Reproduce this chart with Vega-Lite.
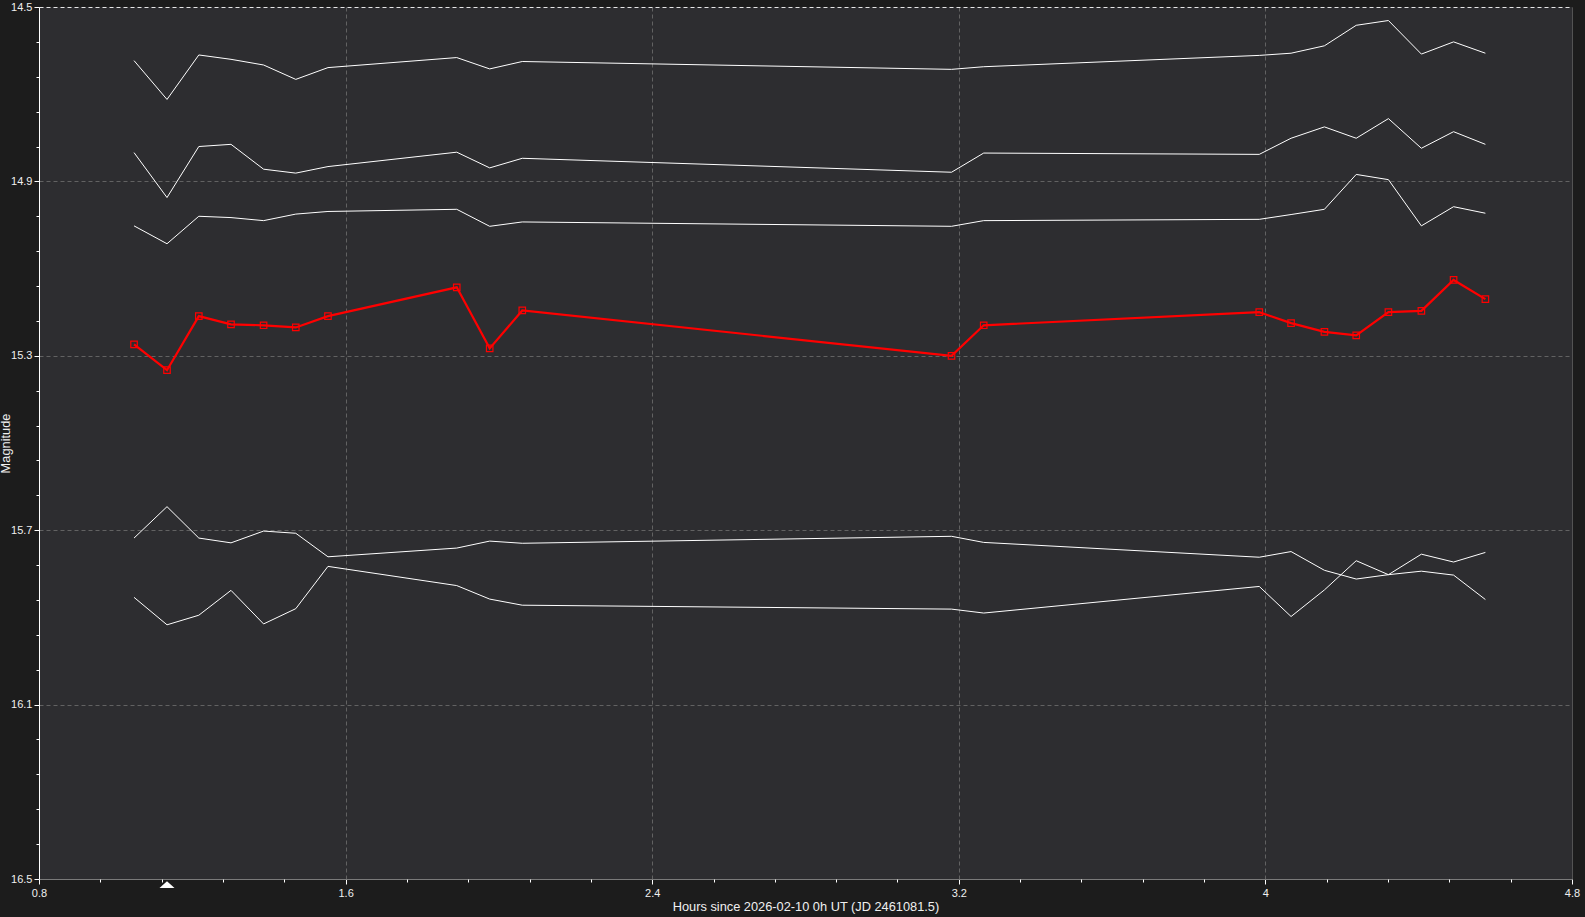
{
  "$schema": "https://vega.github.io/schema/vega-lite/v6.json",
  "width": 1533,
  "height": 872,
  "autosize": {"type": "none"},
  "padding": {"left": 39, "top": 7, "right": 13, "bottom": 38},
  "background": "#1c1c1c",
  "config": {
    "view": {"fill": "#2d2d30", "stroke": null},
    "font": "Liberation Sans",
    "axis": {"labelFont": "Liberation Sans", "titleFont": "Liberation Sans"}
  },
  "datasets": {
    "phot": [
      {"s": "A", "h": 1.048, "m": 14.623}, {"s": "A", "h": 1.134, "m": 14.712}, {"s": "A", "h": 1.217, "m": 14.610}, {"s": "A", "h": 1.301, "m": 14.620}, {"s": "A", "h": 1.386, "m": 14.633},
      {"s": "A", "h": 1.470, "m": 14.666}, {"s": "A", "h": 1.554, "m": 14.639}, {"s": "A", "h": 1.890, "m": 14.616}, {"s": "A", "h": 1.976, "m": 14.642}, {"s": "A", "h": 2.061, "m": 14.625},
      {"s": "A", "h": 3.181, "m": 14.643}, {"s": "A", "h": 3.265, "m": 14.637}, {"s": "A", "h": 3.984, "m": 14.611}, {"s": "A", "h": 4.067, "m": 14.606}, {"s": "A", "h": 4.154, "m": 14.589},
      {"s": "A", "h": 4.237, "m": 14.542}, {"s": "A", "h": 4.321, "m": 14.531}, {"s": "A", "h": 4.407, "m": 14.608}, {"s": "A", "h": 4.491, "m": 14.580}, {"s": "A", "h": 4.574, "m": 14.606},

      {"s": "B", "h": 1.048, "m": 14.834}, {"s": "B", "h": 1.134, "m": 14.937}, {"s": "B", "h": 1.217, "m": 14.820}, {"s": "B", "h": 1.301, "m": 14.815}, {"s": "B", "h": 1.386, "m": 14.872},
      {"s": "B", "h": 1.470, "m": 14.881}, {"s": "B", "h": 1.554, "m": 14.866}, {"s": "B", "h": 1.890, "m": 14.833}, {"s": "B", "h": 1.976, "m": 14.869}, {"s": "B", "h": 2.061, "m": 14.847},
      {"s": "B", "h": 3.181, "m": 14.879}, {"s": "B", "h": 3.265, "m": 14.835}, {"s": "B", "h": 3.984, "m": 14.838}, {"s": "B", "h": 4.067, "m": 14.801}, {"s": "B", "h": 4.154, "m": 14.775},
      {"s": "B", "h": 4.237, "m": 14.801}, {"s": "B", "h": 4.321, "m": 14.756}, {"s": "B", "h": 4.407, "m": 14.824}, {"s": "B", "h": 4.491, "m": 14.786}, {"s": "B", "h": 4.574, "m": 14.815},

      {"s": "C", "h": 1.048, "m": 15.002}, {"s": "C", "h": 1.134, "m": 15.043}, {"s": "C", "h": 1.217, "m": 14.980}, {"s": "C", "h": 1.301, "m": 14.983}, {"s": "C", "h": 1.386, "m": 14.990},
      {"s": "C", "h": 1.470, "m": 14.975}, {"s": "C", "h": 1.554, "m": 14.969}, {"s": "C", "h": 1.890, "m": 14.964}, {"s": "C", "h": 1.976, "m": 15.003}, {"s": "C", "h": 2.061, "m": 14.993},
      {"s": "C", "h": 3.181, "m": 15.003}, {"s": "C", "h": 3.265, "m": 14.990}, {"s": "C", "h": 3.984, "m": 14.987}, {"s": "C", "h": 4.067, "m": 14.976}, {"s": "C", "h": 4.154, "m": 14.964},
      {"s": "C", "h": 4.237, "m": 14.884}, {"s": "C", "h": 4.321, "m": 14.896}, {"s": "C", "h": 4.407, "m": 15.002}, {"s": "C", "h": 4.491, "m": 14.958}, {"s": "C", "h": 4.574, "m": 14.973},

      {"s": "D", "h": 1.048, "m": 15.718}, {"s": "D", "h": 1.134, "m": 15.646}, {"s": "D", "h": 1.217, "m": 15.718}, {"s": "D", "h": 1.301, "m": 15.729}, {"s": "D", "h": 1.386, "m": 15.702},
      {"s": "D", "h": 1.470, "m": 15.707}, {"s": "D", "h": 1.554, "m": 15.761}, {"s": "D", "h": 1.890, "m": 15.741}, {"s": "D", "h": 1.976, "m": 15.725}, {"s": "D", "h": 2.061, "m": 15.730},
      {"s": "D", "h": 3.181, "m": 15.714}, {"s": "D", "h": 3.265, "m": 15.728}, {"s": "D", "h": 3.984, "m": 15.762}, {"s": "D", "h": 4.067, "m": 15.749}, {"s": "D", "h": 4.154, "m": 15.792},
      {"s": "D", "h": 4.237, "m": 15.812}, {"s": "D", "h": 4.321, "m": 15.802}, {"s": "D", "h": 4.407, "m": 15.794}, {"s": "D", "h": 4.491, "m": 15.803}, {"s": "D", "h": 4.574, "m": 15.859},

      {"s": "E", "h": 1.048, "m": 15.854}, {"s": "E", "h": 1.134, "m": 15.917}, {"s": "E", "h": 1.217, "m": 15.895}, {"s": "E", "h": 1.301, "m": 15.838}, {"s": "E", "h": 1.386, "m": 15.915},
      {"s": "E", "h": 1.470, "m": 15.880}, {"s": "E", "h": 1.554, "m": 15.783}, {"s": "E", "h": 1.890, "m": 15.827}, {"s": "E", "h": 1.976, "m": 15.858}, {"s": "E", "h": 2.061, "m": 15.872},
      {"s": "E", "h": 3.181, "m": 15.881}, {"s": "E", "h": 3.265, "m": 15.890}, {"s": "E", "h": 3.984, "m": 15.829}, {"s": "E", "h": 4.067, "m": 15.898}, {"s": "E", "h": 4.154, "m": 15.837},
      {"s": "E", "h": 4.237, "m": 15.770}, {"s": "E", "h": 4.321, "m": 15.802}, {"s": "E", "h": 4.407, "m": 15.755}, {"s": "E", "h": 4.491, "m": 15.773}, {"s": "E", "h": 4.574, "m": 15.751},

      {"s": "Target", "h": 1.048, "m": 15.274}, {"s": "Target", "h": 1.134, "m": 15.333}, {"s": "Target", "h": 1.217, "m": 15.209}, {"s": "Target", "h": 1.301, "m": 15.228}, {"s": "Target", "h": 1.386, "m": 15.230},
      {"s": "Target", "h": 1.470, "m": 15.235}, {"s": "Target", "h": 1.554, "m": 15.209}, {"s": "Target", "h": 1.890, "m": 15.143}, {"s": "Target", "h": 1.976, "m": 15.283}, {"s": "Target", "h": 2.061, "m": 15.196},
      {"s": "Target", "h": 3.181, "m": 15.300}, {"s": "Target", "h": 3.265, "m": 15.230}, {"s": "Target", "h": 3.984, "m": 15.200}, {"s": "Target", "h": 4.067, "m": 15.225}, {"s": "Target", "h": 4.154, "m": 15.245},
      {"s": "Target", "h": 4.237, "m": 15.253}, {"s": "Target", "h": 4.321, "m": 15.200}, {"s": "Target", "h": 4.407, "m": 15.197}, {"s": "Target", "h": 4.491, "m": 15.126}, {"s": "Target", "h": 4.574, "m": 15.170}
    ],
    "marker": [{"h": 1.134, "m": 16.5}]
  },
  "resolve": {"axis": {"x": "independent", "y": "independent"}},
  "layer": [
    {
      "data": {"name": "phot"},
      "transform": [{"filter": "datum.s != 'Target'"}],
      "mark": {"type": "line", "strokeWidth": 1, "color": "#ffffff", "clip": true},
      "encoding": {
        "x": {
          "field": "h", "type": "quantitative",
          "scale": {"domain": [0.8, 4.8], "nice": false, "zero": false},
          "axis": {
            "orient": "bottom",
            "values": [0.8, 1.6, 2.4, 3.2, 4, 4.8],
            "format": ".2~f",
            "title": "Hours since 2026-02-10 0h UT (JD 2461081.5)",
            "titleColor": "#f0f0f0", "titleFontSize": 12.8, "titleFontWeight": "normal",
            "titleBaseline": "alphabetic", "titleY": 31, "titleX": 766.5, "titleAlign": "center",
            "labelColor": "#f0f0f0", "labelFontSize": 11, "labelPadding": 3, "labelFlush": false,
            "domainColor": "#7a7a7a", "domainWidth": 1,
            "tickColor": "#ffffff", "tickSize": 5, "tickWidth": 1,
            "grid": true,
            "gridColor": {"condition": {"test": "datum.value == 4.8", "value": "#666666"}, "value": "#626262"},
            "gridDash": {"condition": {"test": "datum.value == 4.8", "value": [1, 0]}, "value": [4, 3]},
            "gridOpacity": {"condition": {"test": "datum.value == 0.8", "value": 0}, "value": 1},
            "gridWidth": 1
          }
        },
        "y": {
          "field": "m", "type": "quantitative",
          "scale": {"domain": [14.5, 16.5], "nice": false, "zero": false, "reverse": true},
          "axis": {
            "orient": "left",
            "values": [14.5, 14.9, 15.3, 15.7, 16.1, 16.5],
            "format": ".1f",
            "title": "Magnitude",
            "titleColor": "#f0f0f0", "titleFontSize": 12.8, "titleFontWeight": "normal",
            "titleAngle": -90, "titleBaseline": "alphabetic", "titleAlign": "center",
            "titleX": -29.5, "titleY": 436,
            "labelColor": "#f0f0f0", "labelFontSize": 11, "labelPadding": 2,
            "labelFlush": false,
            "domainColor": "#ffffff", "domainWidth": 1,
            "tickColor": "#ffffff", "tickSize": 5, "tickWidth": 1,
            "grid": true,
            "gridColor": {"condition": {"test": "datum.value == 14.5", "value": "#e6e6e6"}, "value": "#626262"},
            "gridDash": [4, 3],
            "gridOpacity": {"condition": {"test": "datum.value == 16.5", "value": 0}, "value": 1},
            "gridWidth": 1
          }
        },
        "detail": {"field": "s", "type": "nominal"}
      }
    },
    {
      "data": {"name": "phot"},
      "transform": [{"filter": "datum.s == 'Target'"}],
      "mark": {"type": "line", "strokeWidth": 2.2, "color": "#ff0000", "clip": true},
      "encoding": {
        "x": {
          "field": "h", "type": "quantitative",
          "axis": {
            "orient": "bottom",
            "values": [0.96, 1.12, 1.28, 1.44, 1.76, 1.92, 2.08, 2.24, 2.56, 2.72, 2.88, 3.04, 3.36, 3.52, 3.68, 3.84, 4.16, 4.32, 4.48, 4.64],
            "labels": false, "domain": false, "grid": false, "title": null,
            "tickColor": "#ffffff", "tickSize": 3, "tickWidth": 1
          }
        },
        "y": {
          "field": "m", "type": "quantitative",
          "axis": {
            "orient": "left",
            "values": [14.58, 14.66, 14.74, 14.82, 14.98, 15.06, 15.14, 15.22, 15.38, 15.46, 15.54, 15.62, 15.78, 15.86, 15.94, 16.02, 16.18, 16.26, 16.34, 16.42],
            "labels": false, "domain": false, "grid": false, "title": null,
            "tickColor": "#ffffff", "tickSize": 3, "tickWidth": 1
          }
        }
      }
    },
    {
      "data": {"name": "phot"},
      "transform": [{"filter": "datum.s == 'Target'"}],
      "mark": {"type": "point", "shape": "square", "filled": false, "size": 42, "stroke": "#ff0000", "strokeWidth": 1.2, "opacity": 1},
      "encoding": {
        "x": {"field": "h", "type": "quantitative", "axis": null},
        "y": {"field": "m", "type": "quantitative", "axis": null}
      }
    },
    {
      "data": {"name": "marker"},
      "mark": {"type": "point", "shape": "M-1,0.45L1,0.45L0,-0.45Z", "filled": true, "size": 225, "color": "#ffffff", "opacity": 1, "yOffset": 5.5, "clip": false},
      "encoding": {
        "x": {"field": "h", "type": "quantitative", "axis": null},
        "y": {"field": "m", "type": "quantitative", "axis": null}
      }
    }
  ]
}
